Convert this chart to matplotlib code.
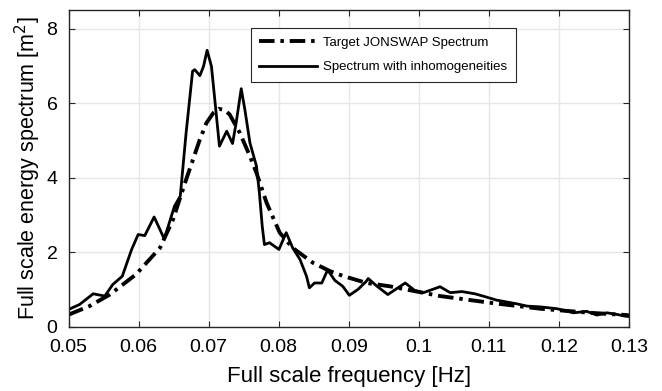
import matplotlib
matplotlib.use("Agg")
import matplotlib.pyplot as plt

plt.rcParams['font.family'] = ['Liberation Sans', 'DejaVu Sans']

# Target JONSWAP spectrum (frequency [Hz], energy [m^2])
target_f = [0.05000, 0.05300, 0.05590, 0.05963, 0.06305, 0.06491, 0.06678, 0.06875,
            0.06968, 0.07071, 0.07144, 0.07227, 0.07299, 0.07444, 0.07589, 0.07683,
            0.07827, 0.08014, 0.08200, 0.08490, 0.08729, 0.08874, 0.08967, 0.09257,
            0.09589, 0.10303, 0.11018, 0.11732, 0.12447, 0.12965, 0.13000]
target_s = [0.33, 0.56, 0.87, 1.41, 2.12, 2.88, 3.95, 5.03,
            5.47, 5.75, 5.85, 5.82, 5.70, 5.21, 4.58, 4.13,
            3.33, 2.53, 2.12, 1.72, 1.50, 1.40, 1.34, 1.18,
            1.09, 0.83, 0.65, 0.49, 0.38, 0.32, 0.31]

# Measured spectrum with inhomogeneities
meas_f = [0.05000, 0.05155, 0.05352, 0.05518, 0.05632, 0.05767, 0.05901, 0.05994,
          0.06088, 0.06222, 0.06367, 0.06512, 0.06595, 0.06678, 0.06771, 0.06802,
          0.06875, 0.06927, 0.06978, 0.07040, 0.07102, 0.07154, 0.07258, 0.07341,
          0.07392, 0.07465, 0.07517, 0.07589, 0.07683, 0.07724, 0.07765, 0.07796,
          0.07869, 0.08003, 0.08107, 0.08200, 0.08304, 0.08397, 0.08438, 0.08511,
          0.08615, 0.08698, 0.08801, 0.08915, 0.09008, 0.09133, 0.09247, 0.09278,
          0.09392, 0.09557, 0.09661, 0.09806, 0.09941, 0.10065, 0.10303, 0.10448,
          0.10614, 0.10800, 0.10914, 0.11111, 0.11401, 0.11544, 0.11732, 0.11971,
          0.12209, 0.12395, 0.12540, 0.12685, 0.12820, 0.12945, 0.13000]
meas_s = [0.47, 0.60, 0.89, 0.83, 1.14, 1.36, 2.08, 2.48,
          2.45, 2.95, 2.36, 3.24, 3.51, 5.20, 6.86, 6.90,
          6.74, 6.99, 7.42, 6.99, 5.83, 4.85, 5.25, 4.92,
          5.47, 6.39, 5.83, 4.94, 4.31, 3.60, 2.70, 2.21,
          2.26, 2.08, 2.53, 2.12, 1.81, 1.36, 1.05, 1.18,
          1.18, 1.53, 1.25, 1.09, 0.85, 1.01, 1.22, 1.30,
          1.11, 0.87, 1.00, 1.18, 0.98, 0.92, 1.08, 0.92,
          0.95, 0.89, 0.83, 0.72, 0.62, 0.56, 0.54, 0.49,
          0.38, 0.42, 0.32, 0.38, 0.34, 0.29, 0.28]

x_ticks = [0.05, 0.06, 0.07, 0.08, 0.09, 0.1, 0.11, 0.12, 0.13]
x_tick_labels = ['0.05', '0.06', '0.07', '0.08', '0.09', '0.1', '0.11', '0.12', '0.13']
y_ticks = [0, 2, 4, 6, 8]

fig = plt.figure(figsize=(6.62, 3.91), dpi=100)
ax = fig.add_axes([0.1035, 0.1637, 0.8467, 0.8107])

ax.plot(target_f, target_s, color='black', lw=2.8,
        linestyle=(0, (4.0, 1.5, 0.9, 1.5)), label='Target JONSWAP Spectrum',
        dash_capstyle='butt')
ax.plot(meas_f, meas_s, color='black', lw=2.0, label='Spectrum with inhomogeneities',
        solid_joinstyle='round')

ax.set_xlim(0.05, 0.13)
ax.set_ylim(0, 8.5)
ax.set_xticks(x_ticks)
ax.set_xticklabels(x_tick_labels)
ax.set_yticks(y_ticks)

ax.grid(True, color='#e6e6e6', lw=1.0)
ax.set_axisbelow(True)
for sp in ax.spines.values():
    sp.set_color('#262626')
    sp.set_linewidth(1.0)
ax.tick_params(direction='in', top=True, right=True, length=4,
               labelsize=14, colors='#262626', labelcolor='black')
ax.tick_params(axis='x', pad=9)
ax.tick_params(axis='y', pad=8)

ax.set_xlabel('Full scale frequency [Hz]', fontsize=16)
ax.set_ylabel('Full scale energy spectrum [m$^2$]', fontsize=15.5)
ax.xaxis.set_label_coords(0.5, -0.122)
ax.yaxis.set_label_coords(-0.046, 0.5)

leg = ax.legend(loc='upper right', bbox_to_anchor=(0.798, 0.943), fontsize=9.5,
                frameon=True, fancybox=False, handlelength=4.4,
                borderpad=0.63, labelspacing=0.95, handletextpad=0.45,
                borderaxespad=0.0)
leg.get_frame().set_edgecolor('#262626')
leg.get_frame().set_linewidth(0.8)
leg.get_frame().set_alpha(1.0)

fig.savefig('out.png', dpi=100)
